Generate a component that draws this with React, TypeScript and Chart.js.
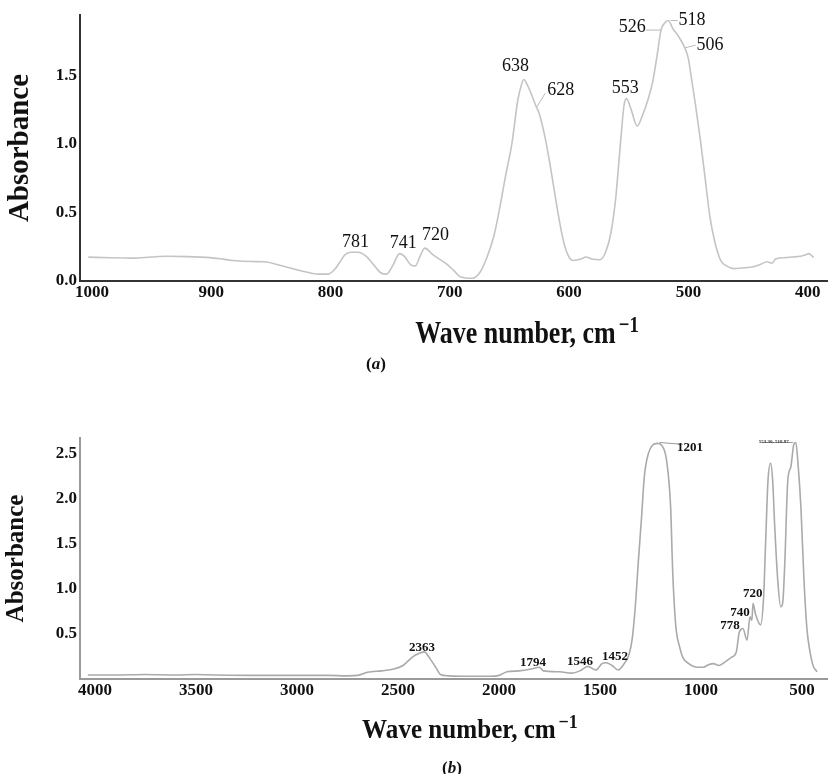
import React, { useEffect, useRef } from "react";
import { Chart, registerables } from "chart.js";
Chart.register(...registerables);

const SERIF = "'Liberation Serif', 'Times New Roman', serif";

// ---------- Chart (a) ----------
const A_WN = [1003, 985, 965, 950, 937, 920, 909, 895, 882, 865, 856, 840, 825, 810, 802, 796, 792, 788, 783, 777, 770, 764, 758, 753, 748, 742, 738, 733, 729, 725, 721, 714, 707, 702, 696, 691, 681, 675, 669, 663, 658, 653, 648, 643, 640, 638, 635, 632, 628, 625, 621, 617, 613, 609, 605, 601, 597, 590, 586, 581, 574, 569, 565, 561, 557, 554, 552, 548, 543, 538, 534, 530, 526, 523, 520, 517, 513, 508, 503, 500, 498, 494, 490, 486, 482, 478, 473, 468, 462, 455, 448, 440, 434, 430, 427, 420, 413, 406, 402, 399, 395];
const A_ABS = [0.174, 0.17, 0.167, 0.175, 0.18, 0.178, 0.174, 0.165, 0.15, 0.142, 0.14, 0.11, 0.075, 0.05, 0.05, 0.09, 0.14, 0.19, 0.21, 0.21, 0.18, 0.12, 0.06, 0.05, 0.11, 0.2, 0.18, 0.12, 0.11, 0.18, 0.24, 0.19, 0.15, 0.12, 0.07, 0.03, 0.02, 0.06, 0.17, 0.33, 0.54, 0.78, 1.0, 1.32, 1.43, 1.47, 1.43, 1.37, 1.28, 1.22, 1.08, 0.9, 0.69, 0.48, 0.3, 0.19, 0.15, 0.16, 0.175, 0.16, 0.155, 0.22, 0.35, 0.6, 1.0, 1.28, 1.33, 1.25, 1.13, 1.22, 1.32, 1.45, 1.66, 1.83, 1.88, 1.9, 1.84, 1.78, 1.7, 1.62, 1.51, 1.28, 1.03, 0.75, 0.47, 0.29, 0.15, 0.11, 0.09, 0.095, 0.1, 0.12, 0.14, 0.13, 0.16, 0.17, 0.175, 0.18, 0.19, 0.2, 0.17];
const A_X_TICKS = [1000, 900, 800, 700, 600, 500, 400];
const A_Y_TICKS = [0, 0.5, 1.0, 1.5];
const A_LABELS = ["781", "741", "720", "638", "628", "553", "526", "518", "506"];
const A_LABEL_WN = [779, 739, 712, 645, 607, 553, 547, 497, 482];
const A_LABEL_ABS = [0.284, 0.277, 0.335, 1.565, 1.39, 1.405, 1.85, 1.9, 1.72];
const A_LEADERS = [
  [627, 1.27, 620, 1.37],
  [536, 1.83, 523, 1.83],
  [515, 1.9, 509, 1.9],
  [503, 1.7, 494, 1.72],
];

// ---------- Chart (b) ----------
const B_WN = [4035, 3900, 3750, 3600, 3500, 3400, 3200, 3000, 2850, 2750, 2700, 2650, 2580, 2520, 2475, 2430, 2400, 2370, 2340, 2310, 2290, 2250, 2150, 2050, 2000, 1960, 1900, 1840, 1800, 1780, 1700, 1640, 1600, 1560, 1520, 1490, 1470, 1440, 1410, 1380, 1355, 1340, 1325, 1310, 1295, 1280, 1260, 1240, 1215, 1195, 1170, 1150, 1140, 1125, 1105, 1090, 1060, 1020, 990, 960, 940, 910, 880, 850, 825, 810, 792, 772, 757, 748, 742, 730, 705, 690, 680, 668, 655, 645, 635, 620, 605, 595, 585, 570, 555, 540, 530, 520, 505, 490, 475, 460, 445, 425];
const B_ABS = [0.045, 0.045, 0.05, 0.045, 0.05, 0.045, 0.04, 0.04, 0.04, 0.035, 0.04, 0.075, 0.09, 0.11, 0.15, 0.24, 0.28, 0.3, 0.22, 0.12, 0.05, 0.035, 0.03, 0.03, 0.04, 0.08, 0.09, 0.11, 0.13, 0.09, 0.08, 0.065, 0.09, 0.14, 0.1, 0.17, 0.18, 0.15, 0.1, 0.17, 0.28, 0.45, 0.8, 1.3, 1.76, 2.25, 2.5, 2.59, 2.61, 2.59, 2.42, 1.9, 1.2, 0.6, 0.35, 0.24, 0.17, 0.13, 0.13, 0.16, 0.17, 0.15, 0.19, 0.24, 0.3, 0.52, 0.56, 0.43, 0.69, 0.65, 0.84, 0.72, 0.6, 0.9, 1.5, 2.2, 2.39, 2.2, 1.7, 1.1, 0.8, 0.85, 1.28, 2.2, 2.35, 2.6, 2.62, 2.4, 1.9, 1.1, 0.55, 0.3, 0.15, 0.08];
const B_X_TICKS = [4000, 3500, 3000, 2500, 2000, 1500, 1000, 500];
const B_Y_TICKS = [0.5, 1.0, 1.5, 2.0, 2.5];
const B_LABELS = ["2363", "1794", "1546", "1452", "1201", "778", "740", "720"];
const B_LABEL_WN = [2381, 1832, 1599, 1426, 1054, 856, 807, 743];
const B_LABEL_ABS = [0.343, 0.177, 0.188, 0.243, 2.566, 0.586, 0.73, 0.95];
const B_LEADERS = [
  [1205, 2.62, 1090, 2.6],
  [700, 2.62, 545, 2.62],
];
const B_TINY_LABELS = ["553.30, 518.97"];
const B_TINY_WN = [640];
const B_TINY_ABS = [2.63];

function annotationPlugin(
  labels: string[], xs: number[], ys: number[], leaders: number[][],
  font: string, color: string, lineColor: string,
  tiny?: { labels: string[]; xs: number[]; ys: number[] }
) {
  return {
    id: "annotations",
    afterDatasetsDraw(chart: any) {
      const { ctx, scales } = chart;
      const x = scales.x, y = scales.y;
      ctx.save();
      ctx.strokeStyle = lineColor;
      ctx.lineWidth = 1;
      leaders.forEach(([a, b, c, d]) => {
        ctx.beginPath();
        ctx.moveTo(x.getPixelForValue(a), y.getPixelForValue(b));
        ctx.lineTo(x.getPixelForValue(c), y.getPixelForValue(d));
        ctx.stroke();
      });
      ctx.font = font;
      ctx.fillStyle = color;
      ctx.textAlign = "center";
      ctx.textBaseline = "middle";
      labels.forEach((t, i) => {
        ctx.fillText(t, x.getPixelForValue(xs[i]), y.getPixelForValue(ys[i]));
      });
      if (tiny) {
        ctx.font = `bold 5px ${SERIF}`;
        ctx.fillStyle = "#333";
        tiny.labels.forEach((t, i) => {
          ctx.fillText(t, x.getPixelForValue(tiny.xs[i]), y.getPixelForValue(tiny.ys[i]));
        });
      }
      ctx.restore();
    },
  };
}

function makeConfig(opts: {
  wn: number[]; abs: number[]; xMin: number; xMax: number; yMax: number;
  xTicks: number[]; yTicks: number[]; lineColor: string; axisColor: string;
  yTitleSize: number; yTitlePad: number; xHeight: number; tickSize: number;
  padTop: number; plugin: any;
}) {
  const data = opts.wn.map((w, i) => ({ x: w, y: opts.abs[i] }));
  return {
    type: "line" as const,
    data: {
      datasets: [
        {
          data,
          borderColor: opts.lineColor,
          borderWidth: 1.6,
          pointRadius: 0,
          fill: false,
          cubicInterpolationMode: "monotone" as const,
        },
      ],
    },
    options: {
      animation: false,
      responsive: false,
      maintainAspectRatio: false,
      layout: { padding: { top: opts.padTop, left: 0, right: 0, bottom: 0 } },
      plugins: { legend: { display: false }, tooltip: { enabled: false } },
      scales: {
        x: {
          type: "linear",
          reverse: true,
          min: opts.xMin,
          max: opts.xMax,
          grid: { display: false, drawTicks: false },
          border: { display: true, color: opts.axisColor, width: 2 },
          ticks: {
            font: { family: SERIF, size: opts.tickSize, weight: "bold" },
            color: "#111",
            padding: 1,
            maxRotation: 0,
            autoSkip: false,
            callback: (v: any) => String(v),
          },
          afterBuildTicks: (s: any) => {
            s.ticks = opts.xTicks.map((v) => ({ value: v }));
          },
          afterFit: (s: any) => {
            s.height = opts.xHeight;
          },
        },
        y: {
          type: "linear",
          min: 0,
          max: opts.yMax,
          grid: { display: false, drawTicks: false },
          border: { display: true, color: opts.axisColor, width: 2 },
          ticks: {
            font: { family: SERIF, size: opts.tickSize, weight: "bold" },
            color: "#111",
            padding: 3,
            autoSkip: false,
            callback: (v: any) => Number(v).toFixed(1),
          },
          title: {
            display: true,
            text: "Absorbance",
            font: { family: SERIF, size: opts.yTitleSize, weight: "bold" },
            color: "#111",
            padding: { top: opts.yTitlePad, bottom: 0 },
          },
          afterBuildTicks: (s: any) => {
            s.ticks = opts.yTicks.map((v) => ({ value: v }));
          },
          afterFit: (s: any) => {
            s.width = 80;
          },
        },
      },
    },
    plugins: [opts.plugin],
  };
}

export default function App() {
  const refA = useRef<HTMLCanvasElement | null>(null);
  const refB = useRef<HTMLCanvasElement | null>(null);

  useEffect(() => {
    const chartA = new Chart(
      refA.current as HTMLCanvasElement,
      makeConfig({
        wn: A_WN, abs: A_ABS, xMin: 383, xMax: 1010, yMax: 1.94,
        xTicks: A_X_TICKS, yTicks: A_Y_TICKS, lineColor: "#c4c4c4", axisColor: "#333",
        yTitleSize: 29, yTitlePad: 3, xHeight: 39, tickSize: 17, padTop: 15,
        plugin: annotationPlugin(A_LABELS, A_LABEL_WN, A_LABEL_ABS, A_LEADERS,
          `18px ${SERIF}`, "#111", "#bbb"),
      }) as any
    );
    const chartB = new Chart(
      refB.current as HTMLCanvasElement,
      makeConfig({
        wn: B_WN, abs: B_ABS, xMin: 371, xMax: 4074, yMax: 2.67,
        xTicks: B_X_TICKS, yTicks: B_Y_TICKS, lineColor: "#aaaaaa", axisColor: "#9a9a9a",
        yTitleSize: 25, yTitlePad: 2, xHeight: 95, tickSize: 17, padTop: 18,
        plugin: annotationPlugin(B_LABELS, B_LABEL_WN, B_LABEL_ABS, B_LEADERS,
          `bold 13px ${SERIF}`, "#111", "#999",
          { labels: B_TINY_LABELS, xs: B_TINY_WN, ys: B_TINY_ABS }),
      }) as any
    );
    return () => {
      chartA.destroy();
      chartB.destroy();
    };
  }, []);

  const titleBase: React.CSSProperties = {
    position: "absolute",
    fontFamily: SERIF,
    fontWeight: "bold",
    color: "#111",
    whiteSpace: "nowrap",
    lineHeight: 1,
  };
  const capStyle: React.CSSProperties = {
    ...titleBase,
    transform: "translate(-50%, -50%)",
    fontSize: 17,
  };
  const sup: React.CSSProperties = {
    fontSize: "0.72em",
    position: "relative",
    top: "-0.5em",
    marginLeft: 3,
  };

  return (
    <div style={{ position: "absolute", left: 0, top: 0, width: 828, height: 774, background: "#fff", overflow: "hidden" }}>
      <canvas ref={refA} width={828} height={320} style={{ position: "absolute", left: 0, top: 0, width: 828, height: 320 }} />
      <canvas ref={refB} width={828} height={354} style={{ position: "absolute", left: 0, top: 420, width: 828, height: 354 }} />
      <div style={{ ...titleBase, fontSize: 26, left: 527, top: 333, transform: "translate(-50%, -50%) scale(1, 1.25)" }}>
        Wave number, cm<span style={sup}>−1</span>
      </div>
      <div style={{ ...capStyle, left: 376, top: 363 }}>
        (<i>a</i>)
      </div>
      <div style={{ ...titleBase, fontSize: 27, left: 470, top: 729, transform: "translate(-50%, -50%) scale(0.93, 1)" }}>
        Wave number, cm<span style={sup}>−1</span>
      </div>
      <div style={{ ...capStyle, left: 452, top: 767 }}>
        (<i>b</i>)
      </div>
    </div>
  );
}
